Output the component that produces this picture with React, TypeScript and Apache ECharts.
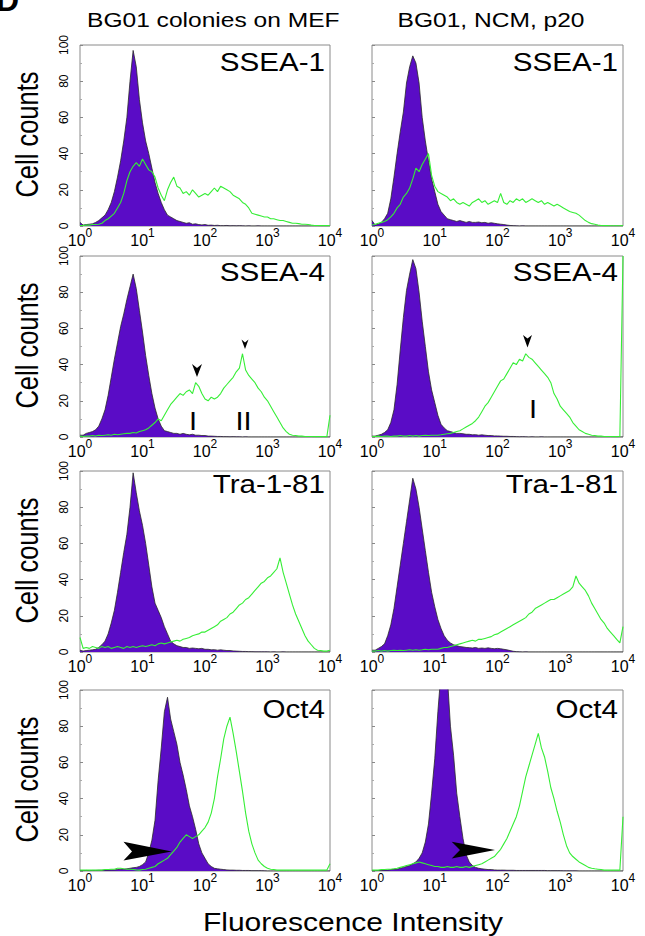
import React, { useEffect, useRef } from "react";
import * as echarts from "echarts";

// ---------- data ----------
// Histogram channels: 20 channels per decade, from 10^0 to 10^4 (81 channels)
const CHANNELS_PER_DECADE = 20;
const Y_MAX = 100;
const Y_INTERVAL = 20;
const X_MIN = 1;
const X_MAX = 10000;

const columnTitles = ["BG01 colonies on MEF", "BG01, NCM, p20"];
const markerNames = ["SSEA-1", "SSEA-4", "Tra-1-81", "Oct4"];
const yAxisTitle = "Cell counts";
const xAxisTitle = "Fluorescence Intensity";
const peakLabelsMef = ["I", "II"];
const peakLabelsNcm = ["I"];

// purple = isotype control (filled), green = stained (line)
const ssea1MefIsotype = [
  2, 0.5, 0.8, 1, 1.2, 2, 3, 4.5, 6, 9,
  13, 19, 27, 36, 47, 60, 80, 97, 88, 70,
  57, 47, 40, 32, 24, 18, 13, 9, 6, 5,
  4, 3, 2.5, 2, 1.5, 1.8, 1, 1.2, 0.8, 0.6,
  0.8, 0.4, 0.5, 0.3, 0.4, 0.2, 0.2, 0.3, 0.1, 0.2,
  0.1, 0.2, 0.1, 0, 0.1, 0, 0, 0.1, 0, 0,
  0, 0, 0, 0, 0, 0, 0, 0, 0, 0,
  0, 0, 0, 0, 0, 0, 0, 0, 0, 0,
  0,
];
const ssea1MefStain = [
  0.3, 0.3, 0.5, 0.5, 0.8, 0.8, 1, 1.5, 3, 4,
  5.5, 7, 10, 13, 18, 25, 30, 33, 35, 33,
  37, 34, 31, 30, 27, 21, 17, 14, 20, 24,
  27, 22, 21, 18, 19, 17, 20, 18, 16, 17,
  18, 17, 19, 21, 19, 22, 21, 20, 19, 17,
  16, 15, 13, 12, 10, 7, 6.5, 6, 5.5, 5,
  5, 4, 4, 3.5, 3, 3, 2.5, 2, 1.5, 1.5,
  1.3, 1, 1, 0.8, 0.5, 0.3, 0.3, 0.2, 0.2, 0.2,
  0.3,
];
const ssea1NcmIsotype = [
  3, 0.5, 1, 2, 4, 7, 15, 27, 40, 52,
  63, 79, 88, 94, 90, 79, 60, 47, 36, 26,
  19, 12, 8, 6, 4, 3.5, 3, 2.5, 3, 2.5,
  2, 2.5, 2, 2, 2.2, 1.8, 2, 1.5, 1.8, 1.5,
  1.2, 1, 0.8, 0.5, 0.3, 0.2, 0.1, 0, 0.1, 0,
  0, 0, 0, 0, 0, 0, 0, 0, 0, 0,
  0, 0, 0, 0, 0, 0, 0, 0, 0, 0,
  0, 0, 0, 0, 0, 0, 0, 0, 0, 0,
  0,
];
const ssea1NcmStain = [
  0.5, 1, 1.5, 2, 2.5, 3.5, 5, 7, 10, 12,
  16, 18, 21, 26, 32, 30, 34, 37, 40, 28,
  22, 19, 18, 17, 16, 14, 15, 13, 12, 13,
  12, 11, 13, 14, 15, 13, 14, 12, 13, 14,
  13, 18, 13, 12, 14, 13, 15, 14, 15, 13,
  14, 15, 14, 13, 14, 12, 13, 12, 11, 12,
  11, 10, 9, 8, 7.5, 7, 6, 4.5, 3, 2,
  1.3, 1, 0.5, 0.3, 0.2, 0.2, 0.1, 0.1, 0.1, 0.1,
  0.2,
];
const ssea4MefIsotype = [
  1, 1, 2, 2.5, 3, 4, 6, 10, 15, 23,
  33, 43, 52, 61, 68, 76, 83, 90, 82, 70,
  58, 45, 34, 24, 16, 10, 6, 3.5, 3, 2.5,
  2, 2, 1.5, 2, 1.5, 1.2, 1.5, 1, 1, 0.8,
  0.8, 0.5, 0.5, 0.4, 0.3, 0.3, 0.2, 0.2, 0.1, 0.2,
  0.1, 0.1, 0, 0.1, 0, 0, 0, 0, 0, 0,
  0, 0, 0, 0, 0, 0, 0, 0, 0, 0,
  0, 0, 0, 0, 0, 0, 0, 0, 0, 0,
  0,
];
const ssea4MefStain = [
  0.5, 0.3, 0.5, 0.5, 0.8, 0.5, 1, 0.8, 1, 1.2,
  1, 1.5, 1.2, 1.5, 1.8, 2, 2, 2.5, 2.2, 3,
  3.5, 4, 5, 6.5, 8, 10, 9, 12, 15, 18,
  20, 22, 24, 23, 25, 26, 24, 30, 28, 24,
  21, 20, 22, 21, 22, 24, 27, 29, 31, 33,
  36, 38, 46, 37, 34, 32, 30, 27, 25, 22,
  20, 17, 14, 11, 8, 5, 3, 1.5, 1, 0.8,
  0.5, 0.5, 0.3, 0.3, 0.3, 0.2, 0.2, 0.2, 0.2, 0.2,
  12,
];
const ssea4NcmIsotype = [
  0.5, 0.5, 1, 1.5, 2.5, 4, 8, 15, 29, 48,
  66, 81, 90, 98, 93, 80, 64, 50, 36, 26,
  19, 12, 7, 5, 3.5, 3, 2.5, 2, 2, 1.8,
  1.5, 1.5, 1.2, 1.3, 1, 1.2, 1, 0.8, 0.8, 0.6,
  0.6, 0.5, 0.4, 0.4, 0.3, 0.3, 0.2, 0.1, 0.2, 0.1,
  0, 0.1, 0, 0, 0.1, 0, 0, 0, 0, 0,
  0, 0, 0, 0, 0, 0, 0, 0, 0, 0,
  0, 0, 0, 0, 0, 0, 0, 0, 0, 0,
  0,
];
const ssea4NcmStain = [
  0.3, 0.3, 0.5, 0.3, 0.5, 0.5, 0.3, 0.5, 0.5, 0.8,
  0.5, 0.5, 0.8, 0.5, 0.8, 0.5, 0.8, 1, 0.8, 1,
  1, 1, 1.2, 1.5, 1.8, 2, 2.5, 3, 3.5, 4.5,
  5.5, 6.5, 7.5, 9, 11, 14, 17, 19, 22, 25,
  28, 31, 32, 35, 38, 41, 40, 43, 42, 46,
  44, 43, 41, 39, 37, 35, 33, 30, 24, 21,
  17, 15, 13, 11, 8, 6, 4, 3, 2, 1.5,
  1, 0.8, 0.5, 0.5, 0.3, 0.3, 0.3, 0.2, 0.2, 0.3,
  100,
];
const tra181MefIsotype = [
  1, 0.5, 0.8, 1, 1.2, 1.5, 2.5, 4, 6, 10,
  16, 23, 33, 44, 55, 65, 80, 99, 88, 78,
  70, 60, 48, 36, 27, 23, 19, 14, 10, 6,
  4.5, 3.5, 3, 2.5, 2.5, 2, 2.2, 2, 1.8, 2,
  1.5, 1.5, 1.2, 1.3, 1, 1.2, 1, 0.8, 0.8, 0.6,
  0.5, 0.4, 0.3, 0.3, 0.2, 0.2, 0.1, 0.1, 0.1, 0.1,
  0.1, 0, 0.1, 0, 0, 0.1, 0, 0, 0, 0,
  0, 0, 0, 0, 0, 0, 0, 0, 0, 0,
  0,
];
const tra181MefStain = [
  8, 2, 2.5, 2, 3, 2.5, 2, 3, 2.5, 3,
  2, 2.5, 3, 2.5, 2, 3, 2.5, 3, 2.5, 3,
  3.5, 3, 3.5, 4, 3.5, 4.5, 5, 4.5, 5, 5.5,
  6, 6.5, 6, 7, 7.5, 8, 9, 9.5, 10, 11,
  11, 12, 13, 14, 15, 17, 18, 19, 21, 22,
  24, 26, 27, 29, 30, 32, 34, 36, 38, 39,
  41, 42, 44, 46, 52, 44, 38, 32, 26, 21,
  17, 13, 9, 6, 4, 2, 1, 0.8, 0.5, 0.5,
  1,
];
const tra181NcmIsotype = [
  1, 1, 2, 3, 4.5, 9, 15, 24, 36, 48,
  60, 72, 84, 96, 90, 80, 68, 56, 44, 33,
  25, 18, 13, 9, 6.5, 5, 4, 3.5, 3, 2.8,
  2.5, 2.4, 2.2, 2.5, 2, 2.2, 2, 2.3, 2, 1.8,
  2, 1.8, 1.5, 1.2, 0.8, 0.4, 0.2, 0.1, 0, 0.1,
  0, 0, 0, 0, 0, 0, 0, 0, 0, 0,
  0, 0, 0, 0, 0, 0, 0, 0, 0, 0,
  0, 0, 0, 0, 0, 0, 0, 0, 0, 0,
  0,
];
const tra181NcmStain = [
  0.5, 0.5, 0.8, 0.5, 0.8, 0.5, 0.8, 1, 0.8, 1,
  0.8, 1, 1.2, 1, 1.2, 1, 1.2, 1.5, 1.2, 1.5,
  1.5, 1.5, 2, 2.5, 2.5, 3, 3.5, 4, 4.5, 5,
  5.5, 6, 6.5, 6, 7, 7, 7.5, 8, 8.5, 9.5,
  10, 11, 12, 13, 14, 15, 16, 17, 18, 19,
  21, 22, 24, 25, 26, 27, 28, 29, 29, 30,
  31, 32, 33, 34, 36, 42, 38, 36, 34, 31,
  27, 24, 21, 18, 16, 13, 11, 9, 7, 5,
  14,
];
const oct4MefIsotype = [
  0.3, 0.2, 0.3, 0.2, 0.3, 0.3, 0.4, 0.4, 0.5, 0.5,
  0.6, 0.6, 0.8, 1, 1, 1.2, 1.5, 1.8, 2, 2.5,
  3.5, 5, 10, 17, 28, 50, 68, 88, 96, 84,
  77, 70, 60, 53, 45, 36, 30, 23, 15, 10,
  7, 4, 2.5, 1.5, 1.2, 1, 0.8, 0.6, 0.5, 0.5,
  0.4, 0.4, 0.3, 0.3, 0.3, 0.2, 0.2, 0.2, 0.2, 0.1,
  0, 0, 0, 0, 0, 0, 0, 0, 0, 0,
  0, 0, 0, 0, 0, 0, 0, 0, 0, 0,
  0,
];
const oct4MefStain = [
  0.5, 0.5, 0.5, 0.5, 0.5, 0.5, 0.5, 0.5, 0.8, 0.8,
  1, 1, 1.5, 1.5, 1.2, 1, 1, 0.8, 0.6, 0.5,
  0.8, 1, 1.5, 2, 2.5, 4, 5, 6, 7, 9,
  11, 13, 16, 18, 20, 19, 18, 19, 20, 22,
  24, 27, 32, 40, 52, 62, 73, 80, 85, 76,
  66, 55, 44, 32, 22, 15, 10, 6, 4, 2.5,
  1.5, 1, 0.8, 0.5, 0.5, 0.5, 0.5, 0.5, 0.5, 0.5,
  0.5, 0.5, 0.5, 0.5, 0.5, 0.5, 0.5, 0.5, 0.5, 0.5,
  4,
];
const oct4NcmIsotype = [
  0.2, 0.2, 0.3, 0.3, 0.5, 0.5, 0.8, 1, 1, 1.5,
  2, 2.5, 3, 4, 5, 7, 10, 16, 26, 43,
  62, 88, 110, 125, 108, 80, 64, 43, 30, 18,
  9, 5, 3, 2, 1.5, 1.2, 1, 0.8, 0.8, 0.6,
  0.5, 0.5, 0.5, 0.4, 0.4, 0.4, 0.3, 0.3, 0.3, 0.3,
  0.3, 0.3, 0.3, 0.3, 0.3, 0.3, 0.2, 0.2, 0.2, 0.2,
  0.2, 0.1, 0.1, 0.1, 0.1, 0.1, 0, 0, 0, 0,
  0, 0, 0, 0, 0, 0, 0, 0, 0, 0,
  0,
];
const oct4NcmStain = [
  0.5, 0.5, 0.5, 0.8, 0.8, 1, 1, 1.2, 1.5, 2,
  2.5, 3, 3.5, 4, 4.5, 5, 4.5, 4, 3.5, 3,
  2.5, 2.5, 2, 2, 2.5, 2, 2, 2.5, 2, 2,
  2.5, 2, 2.5, 3, 3.5, 4, 5, 6, 7, 8,
  10, 12, 15, 18, 22, 26, 30, 36, 44, 52,
  58, 64, 70, 76, 68, 63, 55, 46, 40, 33,
  27, 20, 14, 10, 8, 6.5, 5, 4, 3, 2,
  1.5, 1.2, 1, 0.8, 0.5, 0.5, 0.5, 0.5, 0.5, 0.5,
  30,
];

// panels in reading order: row-major, left column = MEF, right column = NCM
const panelIsotype = [
  ssea1MefIsotype, ssea1NcmIsotype,
  ssea4MefIsotype, ssea4NcmIsotype,
  tra181MefIsotype, tra181NcmIsotype,
  oct4MefIsotype, oct4NcmIsotype,
];
const panelStain = [
  ssea1MefStain, ssea1NcmStain,
  ssea4MefStain, ssea4NcmStain,
  tra181MefStain, tra181NcmStain,
  oct4MefStain, oct4NcmStain,
];

// ---------- layout / style ----------
const FONT = '"Liberation Sans", Arial, Helvetica, sans-serif';
const COL_LEFT = [80, 372];
const COL_WIDTH = [250, 251];
const ROW_TOP = [45, 256, 471, 690];
const ROW_HEIGHT = 181;
const MARKER_Y = [62, 272, 484, 709];
const PURPLE = "#5a0cc6";
const GREEN = "#36ee36";
const STRETCH = 1.16;

const toSeriesData = (values: number[]) =>
  values.map((v, k) => [Math.pow(10, k / CHANNELS_PER_DECADE), v]);

function buildOption() {
  const grids: any[] = [];
  const xAxes: any[] = [];
  const yAxes: any[] = [];
  const series: any[] = [];
  const graphics: any[] = [];

  for (let r = 0; r < 4; r++) {
    for (let c = 0; c < 2; c++) {
      const i = r * 2 + c;
      grids.push({
        left: COL_LEFT[c],
        top: ROW_TOP[r],
        width: COL_WIDTH[c],
        height: ROW_HEIGHT,
        show: true,
        borderColor: "#8a8a8a",
        borderWidth: 1,
        backgroundColor: "transparent",
      });
      xAxes.push({
        gridIndex: i,
        type: "log",
        logBase: 10,
        min: X_MIN,
        max: X_MAX,
        axisLine: { show: false },
        axisTick: { show: false },
        splitLine: { show: false },
        axisLabel: {
          margin: 1,
          formatter: (v: number) => `{b|10}{s|${Math.round(Math.log10(v))}}`,
          rich: {
            b: { fontSize: 16, fontFamily: FONT, color: "#000", verticalAlign: "bottom", lineHeight: 21 },
            s: { fontSize: 12, fontFamily: FONT, color: "#000", verticalAlign: "top", lineHeight: 12 },
          },
        },
      });
      yAxes.push({
        gridIndex: i,
        type: "value",
        min: 0,
        max: Y_MAX,
        interval: Y_INTERVAL,
        axisLine: { show: false },
        splitLine: { show: false },
        axisTick: { show: true, inside: true, length: 3, lineStyle: { color: "#888" } },
        minorTick: { show: true, splitNumber: 2, length: 2, lineStyle: { color: "#aaa" } },
        axisLabel:
          c === 0
            ? { show: true, rotate: 90, margin: 10, fontSize: 12, color: "#000", fontFamily: FONT }
            : { show: false },
      });
      series.push({
        type: "line",
        xAxisIndex: i,
        yAxisIndex: i,
        data: toSeriesData(panelIsotype[i]),
        symbol: "none",
        lineStyle: { color: "#2a2a2a", width: 0.8 },
        areaStyle: { color: PURPLE, opacity: 1 },
        z: 2,
      });
      series.push({
        type: "line",
        xAxisIndex: i,
        yAxisIndex: i,
        data: toSeriesData(panelStain[i]),
        symbol: "none",
        lineStyle: { color: GREEN, width: 1.1 },
        z: 3,
      });
      // marker name, right-aligned inside panel
      graphics.push({
        type: "text",
        x: COL_LEFT[c] + COL_WIDTH[c] - 5,
        y: MARKER_Y[r],
        scaleX: STRETCH,
        z: 10,
        style: {
          text: markerNames[r],
          fontSize: 25.5,
          fontFamily: FONT,
          fill: "#000",
          align: "right",
          verticalAlign: "middle",
        },
      });
    }
    // y axis title per row
    graphics.push({
      type: "text",
      x: 28,
      y: ROW_TOP[r] + ROW_HEIGHT / 2 - 1,
      rotation: Math.PI / 2,
      scaleY: 1.2,
      z: 10,
      style: {
        text: yAxisTitle,
        fontSize: 25.5,
        fontFamily: FONT,
        fill: "#000",
        align: "center",
        verticalAlign: "middle",
      },
    });
  }

  // column titles: left one starts at x=87, right one centred on its column
  const titleX = [87, 491];
  const titleAlign = ["left", "center"];
  columnTitles.forEach((t, c) =>
    graphics.push({
      type: "text",
      x: titleX[c],
      y: 20,
      scaleX: 1.17,
      z: 10,
      style: { text: t, fontSize: 21, fontFamily: FONT, fill: "#000", align: titleAlign[c], verticalAlign: "middle" },
    })
  );

  // bottom axis title
  graphics.push({
    type: "text",
    x: 353,
    y: 922,
    scaleX: 1.2,
    z: 10,
    style: { text: xAxisTitle, fontSize: 25, fontFamily: FONT, fill: "#000", align: "center", verticalAlign: "middle" },
  });

  // panel letter (cut off at top-left corner, as in the source figure)
  graphics.push({
    type: "text",
    x: 19,
    y: 16,
    z: 10,
    style: { text: "D", fontSize: 32, fontWeight: "bold", fontFamily: FONT, fill: "#000", align: "right", verticalAlign: "bottom" },
  });

  // SSEA-4 peak annotations
  const peakLabelPos = [
    [193, 421],
    [243.5, 421],
  ];
  peakLabelsMef.forEach((t, k) =>
    graphics.push({
      type: "text",
      x: peakLabelPos[k][0],
      y: peakLabelPos[k][1],
      scaleX: STRETCH,
      z: 10,
      style: { text: t, fontSize: 25, fontFamily: FONT, fill: "#000", align: "center", verticalAlign: "middle" },
    })
  );
  peakLabelsNcm.forEach((t) =>
    graphics.push({
      type: "text",
      x: 533,
      y: 409,
      scaleX: STRETCH,
      z: 10,
      style: { text: t, fontSize: 25, fontFamily: FONT, fill: "#000", align: "center", verticalAlign: "middle" },
    })
  );
  const smallHeads = [
    [[192, 364], [197, 368], [202, 364], [197, 377]],
    [[241.5, 339.5], [245, 342.5], [248.5, 339.5], [245, 349]],
    [[523, 335], [527.5, 338.5], [532, 335], [527.5, 347.5]],
  ];
  smallHeads.forEach((pts) =>
    graphics.push({ type: "polygon", z: 10, shape: { points: pts }, style: { fill: "#000" } })
  );
  // Oct4 arrows
  const bigHeads = [
    [[123.5, 841.7], [171.7, 851.5], [123.5, 860.5], [132, 851.5]],
    [[451.7, 841.7], [495, 850], [451.7, 858.5], [460, 850]],
  ];
  bigHeads.forEach((pts) =>
    graphics.push({ type: "polygon", z: 10, shape: { points: pts }, style: { fill: "#000" } })
  );

  return {
    animation: false,
    backgroundColor: "#fff",
    grid: grids,
    xAxis: xAxes,
    yAxis: yAxes,
    series,
    graphic: { elements: graphics },
  };
}

export default function App() {
  const ref = useRef<HTMLDivElement>(null);
  useEffect(() => {
    if (!ref.current) return;
    const chart = echarts.init(ref.current, undefined, { renderer: "svg" });
    chart.setOption(buildOption() as any);
    return () => chart.dispose();
  }, []);
  return (
    <div
      ref={ref}
      style={{ position: "fixed", left: 0, top: 0, width: 645, height: 936, background: "#fff" }}
    />
  );
}
